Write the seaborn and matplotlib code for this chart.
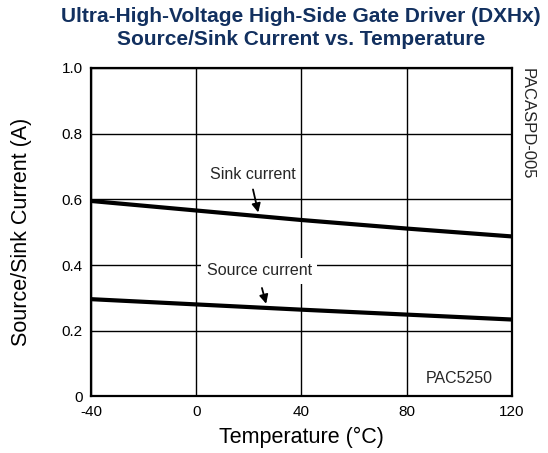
import numpy as np
import pandas as pd
import seaborn as sns
import matplotlib.pyplot as plt

# Valeurs
temp_c = [-40, 0, 40, 80, 120]
sink_a = [0.595, 0.566, 0.537, 0.511, 0.487]
source_a = [0.296, 0.280, 0.264, 0.249, 0.234]
x_ticks = [-40, 0, 40, 80, 120]
y_ticks = [0, 0.2, 0.4, 0.6, 0.8, 1.0]
y_tick_labels = ['0', '0.2', '0.4', '0.6', '0.8', '1.0']

df = pd.DataFrame({
    'Temperature': temp_c * 2,
    'Current': sink_a + source_a,
    'Serie': ['Sink'] * len(temp_c) + ['Source'] * len(temp_c),
})

sns.set_theme(style='white')
plt.rcParams['font.family'] = ['Liberation Sans', 'DejaVu Sans']
plt.rcParams['axes.unicode_minus'] = False

fig, ax = plt.subplots(figsize=(5.48, 4.53), dpi=100)
fig.subplots_adjust(left=0.166, right=0.934, top=0.85, bottom=0.125)

sns.lineplot(data=df, x='Temperature', y='Current', units='Serie',
             estimator=None, color='black', linewidth=3, ax=ax, zorder=3)

ax.set_xlim(-40, 120)
ax.set_ylim(0, 1.0)
ax.set_xticks(x_ticks)
ax.set_yticks(y_ticks)
ax.set_yticklabels(y_tick_labels)
ax.tick_params(labelsize=11, length=0, pad=6, colors='black')
ax.grid(True, color='black', linewidth=1)
for s in ax.spines.values():
    s.set_color('black')
    s.set_linewidth(1.6)

ax.set_xlabel('Temperature (°C)', fontsize=15.5, color='black', labelpad=6)
ax.set_ylabel('Source/Sink Current (A)', fontsize=15.5, color='black', labelpad=21)

fig.suptitle('Ultra-High-Voltage High-Side Gate Driver (DXHx)\nSource/Sink Current vs. Temperature',
             fontsize=15, fontweight='bold', color='#12305f', x=0.549, y=0.985,
             linespacing=1.25)

# annotations
ax.text(21.5, 0.675, 'Sink current', ha='center', va='center', fontsize=11.5)
ax.text(24, 0.382, 'Source current', ha='center', va='center', fontsize=11.5,
        bbox=dict(facecolor='white', edgecolor='none', pad=4))
ax.annotate('', xy=(23.6, 0.560), xytext=(21.6, 0.630),
            arrowprops=dict(arrowstyle='-|>', color='black', lw=1.3,
                            shrinkA=0, shrinkB=0, mutation_scale=13))
ax.annotate('', xy=(26.6, 0.282), xytext=(25.0, 0.330),
            arrowprops=dict(arrowstyle='-|>', color='black', lw=1.3,
                            shrinkA=0, shrinkB=0, mutation_scale=13))

ax.text(100, 0.055, 'PAC5250', ha='center', va='center', fontsize=11.5)
ax.text(1.037, 1.0, 'PACASPD-005', transform=ax.transAxes, rotation=-90,
        ha='center', va='top', fontsize=12)

fig.savefig('out.png', dpi=100)
